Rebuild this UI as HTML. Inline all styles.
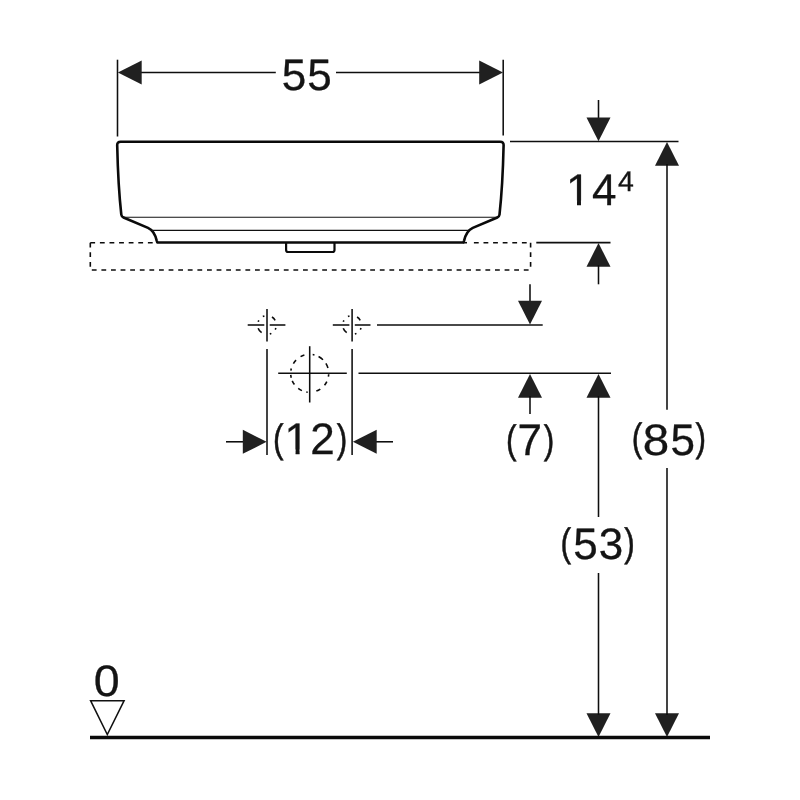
<!DOCTYPE html>
<html lang="en">
<head>
<meta charset="utf-8">
<title>Dimensional drawing</title>
<style>
html,body{margin:0;padding:0;background:#fff;}
body{width:800px;height:800px;overflow:hidden;}
svg{display:block;will-change:transform;}
text{font-family:"Liberation Sans",sans-serif;font-size:44px;fill:#141414;stroke:#141414;stroke-width:0.3px;text-rendering:geometricPrecision;}
.thick{stroke:#0a0a0a;stroke-width:2.6;fill:none;stroke-linejoin:round;stroke-linecap:round;}
.thin{stroke:#0e0e0e;stroke-width:1.55;fill:none;}
.hair{stroke:#111;stroke-width:1.1;fill:none;}
.drain{stroke:#0a0a0a;stroke-width:2.2;fill:none;stroke-linejoin:round;}
.cdash{stroke:#0c0c0c;stroke-width:1.6;fill:none;}
.dash{stroke:#0c0c0c;stroke-width:1.6;fill:none;stroke-dasharray:4.8 4.8;}
.paren{stroke-width:0.55px;}
.arr{fill:#202020;stroke:none;}
.floor{stroke:#0a0a0a;stroke-width:3.4;}
.tri{fill:#fff;stroke:#111;stroke-width:1.5;stroke-linejoin:miter;}
</style>
</head>
<body>
<svg width="800" height="800" viewBox="0 0 800 800">
<defs>
<clipPath id="c1"><path clip-rule="evenodd" d="M0,0 H800 V800 H0 Z M565.97,200.5 H576.98 V207.2 H565.97 Z M580.97,200.5 H590.44 V207.2 H580.97 Z"/></clipPath>
<clipPath id="c2"><path clip-rule="evenodd" d="M0,0 H800 V800 H0 Z M284.57,449.5 H295.58 V456.4 H284.57 Z M299.57,449.5 H309.04 V456.4 H299.57 Z"/></clipPath>
</defs>
<rect width="800" height="800" fill="#fff"/>
<line class="thin" x1="117.5" y1="59.7" x2="117.5" y2="136.5"/>
<line class="thin" x1="503.2" y1="59.7" x2="503.2" y2="135.5"/>
<line class="thin" x1="140" y1="72.5" x2="275.8" y2="72.5"/>
<line class="thin" x1="336" y1="72.5" x2="481" y2="72.5"/>
<polygon class="arr" points="117.9,72.5 141.7,60.5 141.7,84.5"/>
<polygon class="arr" points="503,72.5 479.2,60.5 479.2,84.5"/>
<text><tspan x="281.84" y="89.6">5</tspan><tspan x="307.24" y="89.6">5</tspan></text>
<path class="thick" d="M120.6,141.8 H500.2 Q503.7,141.8 503.6,145.3 Q502.7,186 499.5,214.6 Q499.2,216.7 497.3,217.5 L472.8,227.9 C468.3,230 465.6,234.2 464.1,240.6 L463.5,242.45 H157.3 L156.7,240.6 C155.2,234.2 152.5,230 148,227.9 L123.5,217.5 Q121.6,216.7 121.3,214.6 Q118.1,186 117.2,145.3 Q117.1,141.8 120.6,141.8 Z"/>
<line class="hair" x1="123" y1="217.3" x2="497.5" y2="217.3"/>
<line class="hair" x1="152" y1="230.4" x2="468.8" y2="230.4"/>
<path class="drain" d="M286.1,243 V250 Q286.1,252 288.1,252 H332.5 Q334.5,252 334.5,250 V243"/>
<path class="dash" d="M90.3,242.7 H157"/>
<path class="dash" d="M90.3,242.7 V270 H530.6"/>
<path class="dash" d="M473.9,242.7 H530.6"/>
<line class="thin" x1="463" y1="242.7" x2="467" y2="242.7"/>
<path class="dash" d="M530.6,242.7 V270"/>
<line class="thin" x1="510" y1="141.5" x2="678.5" y2="141.5"/>
<line class="thin" x1="598.5" y1="100" x2="598.5" y2="119"/>
<polygon class="arr" points="598.5,141.3 586.5,117.5 610.5,117.5"/>
<text clip-path="url(#c1)"><tspan x="565.97" y="205.2">1</tspan><tspan x="591.99" y="205.2">4</tspan><tspan x="617.95" y="190.6" style="font-size:28.5px">4</tspan></text>
<line class="thin" x1="536.3" y1="242.6" x2="610.5" y2="242.6"/>
<polygon class="arr" points="598.5,243 586.5,266.8 610.5,266.8"/>
<line class="thin" x1="598.5" y1="265" x2="598.5" y2="284.3"/>
<line class="thin" x1="530" y1="284.3" x2="530" y2="302"/>
<polygon class="arr" points="530,324.6 518,300.8 542,300.8"/>
<line class="thin" x1="377" y1="325" x2="542.7" y2="325"/>
<line class="thin" x1="358.5" y1="373.3" x2="611" y2="373.3"/>
<polygon class="arr" points="530,374 518,397.8 542,397.8"/>
<line class="thin" x1="530" y1="396" x2="530" y2="414"/>
<text><tspan x="506.04" y="452.6" class="paren" style="font-size:39.6px" textLength="10.55" lengthAdjust="spacingAndGlyphs">(</tspan><tspan x="517.54" y="455.4">7</tspan><tspan x="543.81" y="452.6" class="paren" style="font-size:39.6px" textLength="10.55" lengthAdjust="spacingAndGlyphs">)</tspan></text>
<polygon class="arr" points="598.5,374 586.5,397.8 610.5,397.8"/>
<polygon class="arr" points="598.5,737 586.5,713.2 610.5,713.2"/>
<line class="thin" x1="598.5" y1="396" x2="598.5" y2="517"/>
<line class="thin" x1="598.5" y1="573" x2="598.5" y2="715"/>
<text><tspan x="560.54" y="556" class="paren" style="font-size:39.6px" textLength="10.55" lengthAdjust="spacingAndGlyphs">(</tspan><tspan x="573.24" y="559.2">5</tspan><tspan x="598.72" y="559.2">3</tspan><tspan x="624.21" y="556" class="paren" style="font-size:39.6px" textLength="10.55" lengthAdjust="spacingAndGlyphs">)</tspan></text>
<polygon class="arr" points="667,142 655,165.8 679,165.8"/>
<polygon class="arr" points="667,737 655,713.2 679,713.2"/>
<line class="thin" x1="667" y1="164" x2="667" y2="409.8"/>
<line class="thin" x1="667" y1="468" x2="667" y2="715"/>
<text><tspan x="631.84" y="451.3" class="paren" style="font-size:39.6px" textLength="10.55" lengthAdjust="spacingAndGlyphs">(</tspan><tspan x="642.73" y="454.5" textLength="26.43" lengthAdjust="spacingAndGlyphs">8</tspan><tspan x="670.54" y="454.5">5</tspan><tspan x="695.41" y="451.3" class="paren" style="font-size:39.6px" textLength="10.55" lengthAdjust="spacingAndGlyphs">)</tspan></text>
<line class="thin" x1="247.7" y1="325" x2="264.3" y2="325"/>
<line class="thin" x1="269.7" y1="325" x2="285.4" y2="325"/>
<line class="thin" x1="267" y1="309" x2="267" y2="341.6"/>
<circle class="cdash" cx="267" cy="325" r="9.4" transform="rotate(-58 267 325)" stroke-dasharray="4.59 7.87 1.64 5.58 1.64 8.53 5.74 6.4 1.64 5.58 1.64 8.2"/>
<line class="thin" x1="267" y1="349" x2="267" y2="455"/>
<line class="thin" x1="332.8" y1="325" x2="349.4" y2="325"/>
<line class="thin" x1="354.8" y1="325" x2="370.5" y2="325"/>
<line class="thin" x1="352.1" y1="309" x2="352.1" y2="341.6"/>
<circle class="cdash" cx="352.1" cy="325" r="9.4" transform="rotate(-58 352.1 325)" stroke-dasharray="4.59 7.87 1.64 5.58 1.64 8.53 5.74 6.4 1.64 5.58 1.64 8.2"/>
<line class="thin" x1="352.1" y1="349" x2="352.1" y2="455"/>
<line class="thin" x1="278.2" y1="373.3" x2="346.8" y2="373.3"/>
<line class="thin" x1="309.7" y1="346.2" x2="309.7" y2="402.5"/>
<circle class="cdash" cx="309.7" cy="373.3" r="19" transform="rotate(3 309.7 373.3)" stroke-dasharray="2.49 5.01 4.31 5.64 4.44 8.79 1.49 4.48 4.31 5.31 4.34 3.12 2.98 4.31 2.16 5.34 4.34 5.6 4.11 8.46 1.82 4.31 5.44 4.61 5.11 7.06"/>
<line class="thin" x1="226" y1="441.8" x2="245" y2="441.8"/>
<line class="thin" x1="375" y1="441.8" x2="393" y2="441.8"/>
<polygon class="arr" points="266.6,441.8 242.8,429.8 242.8,453.8"/>
<polygon class="arr" points="352.9,441.8 376.7,429.8 376.7,453.8"/>
<text clip-path="url(#c2)"><tspan x="273.04" y="451.5" class="paren" style="font-size:39.6px" textLength="10.55" lengthAdjust="spacingAndGlyphs">(</tspan><tspan x="284.57" y="454.4">1</tspan><tspan x="310.29" y="454.4">2</tspan><tspan x="336.81" y="451.5" class="paren" style="font-size:39.6px" textLength="10.55" lengthAdjust="spacingAndGlyphs">)</tspan></text>
<line class="floor" x1="90" y1="737.5" x2="710" y2="737.5"/>
<text><tspan x="93.88" y="695.8" textLength="25.94" lengthAdjust="spacingAndGlyphs">0</tspan></text>
<polygon class="tri" points="90.6,700.7 124.1,700.7 107.3,734.6"/>
</svg>
</body>
</html>
